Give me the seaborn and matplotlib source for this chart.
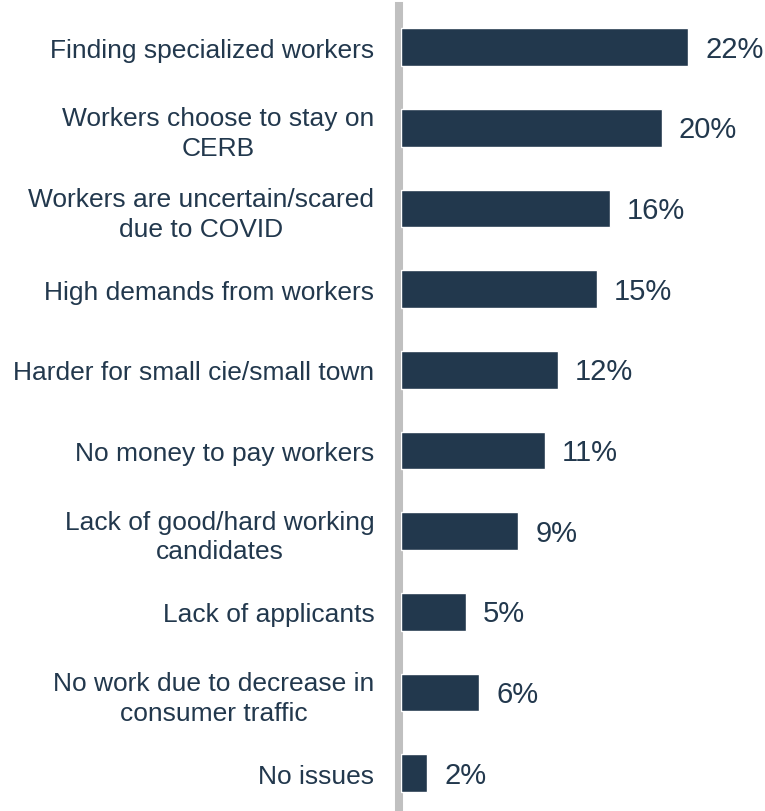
import matplotlib
matplotlib.use("Agg")
import matplotlib.pyplot as plt
import seaborn as sns
import pandas as pd

categories = [
    "Finding specialized workers",
    "Workers choose to stay on\nCERB",
    "Workers are uncertain/scared\ndue to COVID",
    "High demands from workers",
    "Harder for small cie/small town",
    "No money to pay workers",
    "Lack of good/hard working\ncandidates",
    "Lack of applicants",
    "No work due to decrease in\nconsumer traffic",
    "No issues",
]
values = [22, 20, 16, 15, 12, 11, 9, 5, 6, 2]

NAVY = "#22384D"
SPINE_GRAY = "#C0C0C0"

sns.set_theme(style="white")
plt.rcParams["font.family"] = ["Liberation Sans", "DejaVu Sans"]

df = pd.DataFrame({"reason": categories, "share": values})

W, H = 765, 812
fig = plt.figure(figsize=(W / 100, H / 100), dpi=100)
left_px, top_px = 401, 7
ax = fig.add_axes([left_px / W, 0, 1 - left_px / W, 1 - top_px / H])

sns.barplot(data=df, y="reason", x="share", orient="h", color=NAVY,
            saturation=1, width=0.465, ax=ax, zorder=3)

ax.set_xlim(0, (W - left_px) / 13.05)
ax.set_ylim(9.47, -0.51)

for i, v in enumerate(values):
    ax.text(v + 1.3, i + 0.02, f"{v}%", va="center", ha="left",
            fontsize=21, color=NAVY)

ax.set_xlabel("")
ax.set_ylabel("")
ax.set_xticks([])
ax.tick_params(axis="y", length=0, pad=17.7, labelsize=19, labelcolor=NAVY)

for s in ["top", "right", "bottom"]:
    ax.spines[s].set_visible(False)
ax.spines["left"].set_color(SPINE_GRAY)
ax.spines["left"].set_linewidth(5.8)
ax.spines["left"].set_position(("outward", 1.5))

# wrapped category names are centred line-by-line
fig.canvas.draw()
for lbl in ax.get_yticklabels():
    lbl.set_linespacing(1.3)
    lbl.set_multialignment("center")

fig.savefig("out.png", dpi=100)
